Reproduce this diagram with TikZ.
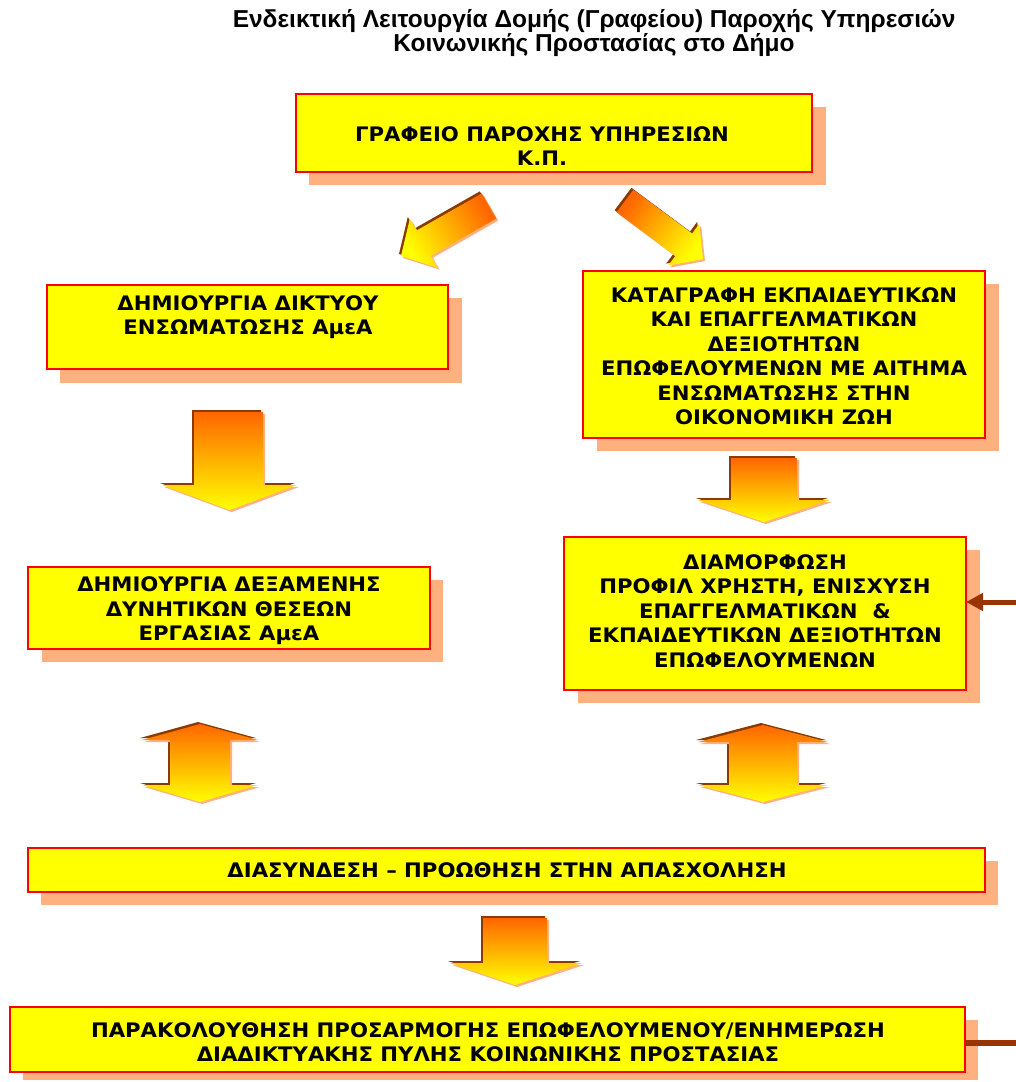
\documentclass[tikz,border=0pt]{standalone}
\usepackage{fontspec}
\newfontfamily\vfont{DejaVu Sans}[FakeStretch=1.06]
\newfontfamily\afont{Liberation Sans}
\usetikzlibrary{arrows.meta}
\definecolor{shadowc}{HTML}{FFB07F}
\definecolor{boxred}{HTML}{FF0000}
\definecolor{boxyel}{HTML}{FFFF00}
\definecolor{arrbrown}{HTML}{993300}
\definecolor{arrdark}{HTML}{8B3A00}
\definecolor{arrorange}{HTML}{FF6600}
\definecolor{arryellow}{HTML}{FFFF00}
\tikzset{
  box/.style={draw=boxred, line width=1.5pt, fill=boxyel, inner sep=0pt, outer sep=0pt, anchor=north west},
  txt/.style={font=\vfont\bfseries\fontsize{20}{24.5}\selectfont, align=center, inner sep=0pt},
  ttl/.style={font=\afont\bfseries\fontsize{24.5}{24}\selectfont, align=center, inner sep=0pt},
  bshadow/.style={fill=shadowc, draw=none},
  arredge/.style={fill=arrdark, draw=none},
  arrshade/.style={fill=shadowc, draw=none},
  arrfill/.style={top color=arrorange, bottom color=arryellow},
  brownarrow/.style={draw=arrbrown, line width=5pt, -{Triangle[length=17pt,width=17pt]}},
}
\newcommand{\blockarr}[2]{%
  \fill[arredge, shift={(-2pt,2pt)}] #1;
  \fill[arrshade, shift={(2pt,-2pt)}] #1;
  \shade[#2] #1;}
\begin{document}
\begin{tikzpicture}[x=1pt,y=-1pt]
\useasboundingbox[fill=white] (0,0) rectangle (1016,1082);

% title
\node[ttl] (title) at (594,33) {Ενδεικτική Λειτουργία Δομής (Γραφείου) Παροχής Υπηρεσιών\\Κοινωνικής Προστασίας στο Δήμο};

% shadows
\fill[bshadow] (309,107) rectangle (826,185);
\fill[bshadow] (60,298) rectangle (462,383);
\fill[bshadow] (597,284) rectangle (999,451);
\fill[bshadow] (42,580) rectangle (443,662);
\fill[bshadow] (578,550) rectangle (980,703);
\fill[bshadow] (41,861) rectangle (998,905);
\fill[bshadow] (23,1020) rectangle (978,1080);

% boxes
\node[box, minimum width=516pt, minimum height=78pt] (b1) at (296,94) {};
\node[box, minimum width=401pt, minimum height=84pt] (b2) at (47,285) {};
\node[box, minimum width=402pt, minimum height=167pt] (b3) at (583,271) {};
\node[box, minimum width=402pt, minimum height=82pt] (b4) at (28,567) {};
\node[box, minimum width=402pt, minimum height=153pt] (b5) at (564,537) {};
\node[box, minimum width=957pt, minimum height=44pt] (b6) at (28,848) {};
\node[box, minimum width=955pt, minimum height=65pt] (b7) at (10,1007) {};

% texts
\node[txt] (t1) at (542,146) {ΓΡΑΦΕΙΟ ΠΑΡΟΧΗΣ ΥΠΗΡΕΣΙΩΝ\\Κ.Π.};
\node[txt] (t2) at (248,317) {ΔΗΜΙΟΥΡΓΙΑ ΔΙΚΤΥΟΥ\\ΕΝΣΩΜΑΤΩΣΗΣ ΑμεΑ};
\node[txt] (t3) at (784,356) {ΚΑΤΑΓΡΑΦΗ ΕΚΠΑΙΔΕΥΤΙΚΩΝ\\ΚΑΙ ΕΠΑΓΓΕΛΜΑΤΙΚΩΝ\\ΔΕΞΙΟΤΗΤΩΝ\\ΕΠΩΦΕΛΟΥΜΕΝΩΝ ΜΕ ΑΙΤΗΜΑ\\ΕΝΣΩΜΑΤΩΣΗΣ ΣΤΗΝ\\ΟΙΚΟΝΟΜΙΚΗ ΖΩΗ};
\node[txt] (t4) at (229,611) {ΔΗΜΙΟΥΡΓΙΑ ΔΕΞΑΜΕΝΗΣ\\ΔΥΝΗΤΙΚΩΝ ΘΕΣΕΩΝ\\ΕΡΓΑΣΙΑΣ ΑμεΑ};
\node[txt] (t5) at (765,611) {ΔΙΑΜΟΡΦΩΣΗ\\ΠΡΟΦΙΛ ΧΡΗΣΤΗ, ΕΝΙΣΧΥΣΗ\\ΕΠΑΓΓΕΛΜΑΤΙΚΩΝ \ \&\\ΕΚΠΑΙΔΕΥΤΙΚΩΝ ΔΕΞΙΟΤΗΤΩΝ\\ΕΠΩΦΕΛΟΥΜΕΝΩΝ};
\node[txt] (t6) at (507,870) {ΔΙΑΣΥΝΔΕΣΗ – ΠΡΟΩΘΗΣΗ ΣΤΗΝ ΑΠΑΣΧΟΛΗΣΗ};
\node[txt] (t7) at (488,1042) {ΠΑΡΑΚΟΛΟΥΘΗΣΗ ΠΡΟΣΑΡΜΟΓΗΣ ΕΠΩΦΕΛΟΥΜΕΝΟΥ/ΕΝΗΜΕΡΩΣΗ\\ΔΙΑΔΙΚΤΥΑΚΗΣ ΠΥΛΗΣ ΚΟΙΝΩΝΙΚΗΣ ΠΡΟΣΤΑΣΙΑΣ};

% block arrows
\blockarr{(496.2,218.6) -- (481.8,193.4) -- (416.4,230.6) -- (409.8,218.9) -- (401,256) -- (437.4,267.5) -- (430.8,255.8) -- cycle}
  {arrfill, shading angle=-60}
\blockarr{(616.6,212.2) -- (633.4,189.8) -- (692.1,233.5) -- (699.2,223.8) -- (703,259) -- (668.2,265.6) -- (675.4,255.9) -- cycle}
  {arrfill, shading angle=53}
% left down
\blockarr{(194,412) -- (263,412) -- (263,485) -- (297,485) -- (229.5,510) -- (162,485) -- (194,485) -- cycle}{arrfill}
% right down
\blockarr{(731,458) -- (797,458) -- (797,500) -- (830,500) -- (764,522) -- (698,500) -- (731,500) -- cycle}{arrfill}
% left double
\blockarr{(200,724) -- (258,740) -- (230,740) -- (230,785) -- (258,785) -- (200,802) -- (142,785) -- (170,785) -- (170,740) -- (142,740) -- cycle}{arrfill}
% right double
\blockarr{(763,725) -- (828,742) -- (797,742) -- (797,785) -- (828,785) -- (763,802) -- (698,785) -- (729,785) -- (729,742) -- (698,742) -- cycle}{arrfill}
% bottom down
\blockarr{(483,918) -- (547,918) -- (547,963) -- (582,963) -- (515,985) -- (450,963) -- (483,963) -- cycle}{arrfill}

% brown connectors
\coordinate (r1) at (1016,602);
\draw[brownarrow] (r1) -- (b5.east |- r1);
\coordinate (r2) at (1016,1043);
\draw[draw=arrbrown, line width=6pt] (r2) -- (b7.east |- r2);
\end{tikzpicture}
\end{document}
